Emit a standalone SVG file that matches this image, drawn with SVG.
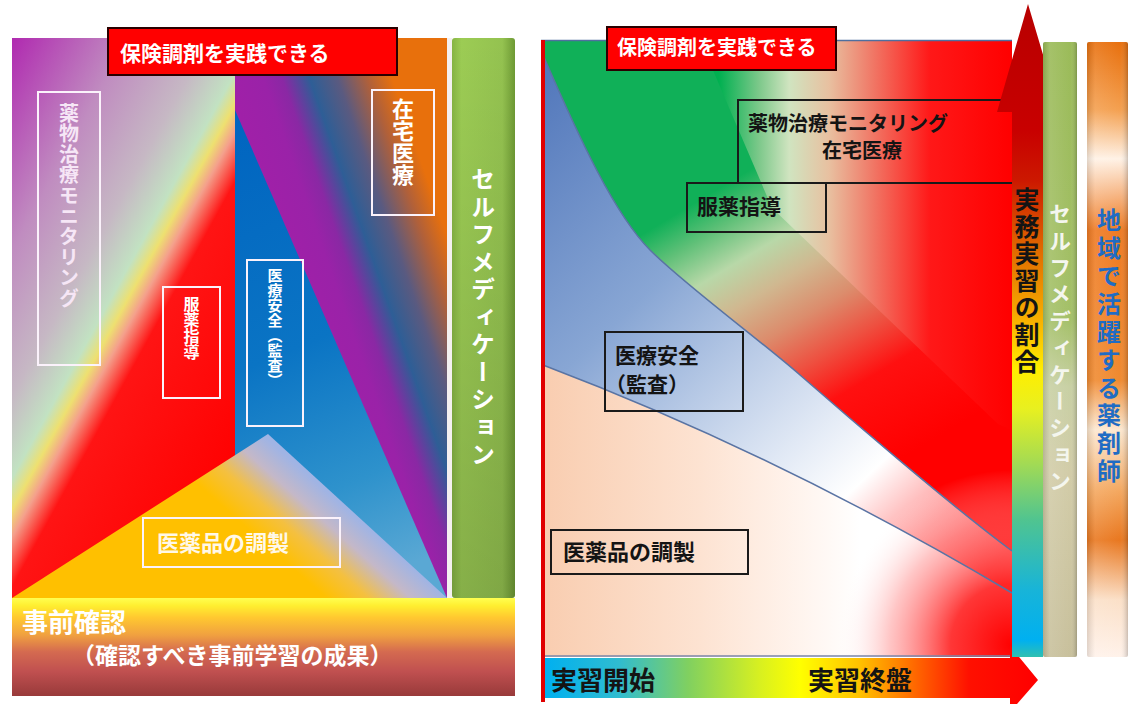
<svg xmlns="http://www.w3.org/2000/svg" width="1131" height="704" viewBox="0 0 1131 704">
<style>
text{font-family:"Noto Sans CJK JP","Noto Sans CJK SC",sans-serif;font-weight:700}
.v{writing-mode:vertical-rl}
.w{fill:#ffffff}
.k{fill:#141414}
.wb{fill:none;stroke:#fbf2fb;stroke-width:2}
.kb{fill:none;stroke:#1a1a1a;stroke-width:2}
.curve{fill:none;stroke:#5a74a4;stroke-width:1.5}
.title{fill:#ff0000;stroke:#2a0000;stroke-width:2}
</style>
<defs>
<linearGradient id="gL" gradientUnits="userSpaceOnUse" x1="0" y1="0" x2="383.9" y2="211.1">
<stop offset="0.066" stop-color="#b02ab0"/>
<stop offset="0.3" stop-color="#c08cc0"/>
<stop offset="0.46" stop-color="#c6b8c4"/>
<stop offset="0.55" stop-color="#c2e2c2"/>
<stop offset="0.585" stop-color="#eee070"/>
<stop offset="0.615" stop-color="#f4a08c"/>
<stop offset="0.67" stop-color="#ff1414"/>
<stop offset="1" stop-color="#ff0000"/>
</linearGradient>
<linearGradient id="gM" gradientUnits="userSpaceOnUse" x1="200" y1="0" x2="600" y2="-140">
<stop offset="0" stop-color="#a020a8"/>
<stop offset="0.08" stop-color="#9a22a8"/>
<stop offset="0.122" stop-color="#8a28a4"/>
<stop offset="0.183" stop-color="#2e5e96"/>
<stop offset="0.245" stop-color="#5a5a80"/>
<stop offset="0.312" stop-color="#b0603a"/>
<stop offset="0.367" stop-color="#e8700c"/>
<stop offset="1" stop-color="#e8700c"/>
</linearGradient>
<linearGradient id="gB" gradientUnits="userSpaceOnUse" x1="235" y1="110" x2="420" y2="560">
<stop offset="0" stop-color="#0064c0"/>
<stop offset="0.5" stop-color="#0a74c4"/>
<stop offset="0.8" stop-color="#2e92cc"/>
<stop offset="1" stop-color="#5aa8d4"/>
</linearGradient>
<linearGradient id="gY" gradientUnits="userSpaceOnUse" x1="350" y1="512" x2="297" y2="572">
<stop offset="0" stop-color="#a0b4e4"/>
<stop offset="0.3" stop-color="#c4b8c8"/>
<stop offset="0.65" stop-color="#f4c040"/>
<stop offset="1" stop-color="#ffc000"/>
</linearGradient>
<linearGradient id="gBand" x1="0" y1="0" x2="0" y2="1">
<stop offset="0" stop-color="#ffff50"/>
<stop offset="0.08" stop-color="#ffee30"/>
<stop offset="0.2" stop-color="#ffc830"/>
<stop offset="0.38" stop-color="#f0a040"/>
<stop offset="0.55" stop-color="#d46a50"/>
<stop offset="0.75" stop-color="#c05050"/>
<stop offset="1" stop-color="#983a3a"/>
</linearGradient>
<linearGradient id="gG" x1="0" y1="0" x2="1" y2="0">
<stop offset="0" stop-color="#86b444"/>
<stop offset="0.15" stop-color="#9ccc54"/>
<stop offset="0.8" stop-color="#94c250"/>
<stop offset="1" stop-color="#6e9a34"/>
</linearGradient>
<linearGradient id="gDark" x1="0" y1="0" x2="0" y2="1">
<stop offset="0" stop-color="#000" stop-opacity="0"/>
<stop offset="1" stop-color="#000" stop-opacity="0.14"/>
</linearGradient>
<linearGradient id="gUp" gradientUnits="userSpaceOnUse" x1="543" y1="0" x2="1012" y2="0">
<stop offset="0.375" stop-color="#00b050"/>
<stop offset="0.46" stop-color="#7cc88a"/>
<stop offset="0.525" stop-color="#d0e4c0"/>
<stop offset="0.61" stop-color="#e8c0a0"/>
<stop offset="0.70" stop-color="#f07a68"/>
<stop offset="0.825" stop-color="#ff1818"/>
<stop offset="1" stop-color="#ff0000"/>
</linearGradient>
<linearGradient id="gW" gradientUnits="userSpaceOnUse" x1="0" y1="0" x2="441" y2="735">
<stop offset="0.62" stop-color="#10b058"/>
<stop offset="0.66" stop-color="#60c078"/>
<stop offset="0.705" stop-color="#b8d8a8"/>
<stop offset="0.75" stop-color="#d0b890"/>
<stop offset="0.80" stop-color="#dc8c6c"/>
<stop offset="0.85" stop-color="#ee5040"/>
<stop offset="0.90" stop-color="#ff1010"/>
<stop offset="1" stop-color="#ff0000"/>
</linearGradient>
<linearGradient id="gBlue" gradientUnits="userSpaceOnUse" x1="545" y1="80" x2="1000" y2="560">
<stop offset="0" stop-color="#5479bc"/>
<stop offset="0.34" stop-color="#88a6d4"/>
<stop offset="0.51" stop-color="#b8cae6"/>
<stop offset="0.67" stop-color="#e4ebf6"/>
<stop offset="0.77" stop-color="#ffffff"/>
<stop offset="0.89" stop-color="#ff9a9a"/>
<stop offset="1" stop-color="#ff5a5a"/>
</linearGradient>
<linearGradient id="gPeach" gradientUnits="userSpaceOnUse" x1="543" y1="0" x2="860" y2="0">
<stop offset="0" stop-color="#f9cdb0"/>
<stop offset="0.5" stop-color="#fde3d2"/>
<stop offset="0.85" stop-color="#fff6f1"/>
<stop offset="1" stop-color="#ffffff"/>
</linearGradient>
<radialGradient id="gGlow" gradientUnits="userSpaceOnUse" cx="1012" cy="645" r="175">
<stop offset="0" stop-color="#ff0000" stop-opacity="1"/>
<stop offset="0.35" stop-color="#ff2020" stop-opacity="0.9"/>
<stop offset="0.7" stop-color="#ff8080" stop-opacity="0.45"/>
<stop offset="1" stop-color="#ffffff" stop-opacity="0"/>
</radialGradient>
<linearGradient id="gV" gradientUnits="userSpaceOnUse" x1="0" y1="4" x2="0" y2="657">
<stop offset="0" stop-color="#b80000"/>
<stop offset="0.193" stop-color="#c80000"/>
<stop offset="0.27" stop-color="#cc1800"/>
<stop offset="0.377" stop-color="#e06a00"/>
<stop offset="0.484" stop-color="#f8b000"/>
<stop offset="0.56" stop-color="#ffee00"/>
<stop offset="0.62" stop-color="#e8f020"/>
<stop offset="0.698" stop-color="#a8dc50"/>
<stop offset="0.79" stop-color="#50c490"/>
<stop offset="0.897" stop-color="#18b4d8"/>
<stop offset="0.974" stop-color="#00b0f0"/>
<stop offset="1" stop-color="#30c0b0"/>
</linearGradient>
<linearGradient id="gH" gradientUnits="userSpaceOnUse" x1="545" y1="0" x2="1038" y2="0">
<stop offset="0" stop-color="#00b0f0"/>
<stop offset="0.15" stop-color="#30bcd0"/>
<stop offset="0.29" stop-color="#80d060"/>
<stop offset="0.436" stop-color="#d8f020"/>
<stop offset="0.517" stop-color="#ffff00"/>
<stop offset="0.64" stop-color="#ffc000"/>
<stop offset="0.76" stop-color="#ff6000"/>
<stop offset="0.86" stop-color="#ff1000"/>
<stop offset="1" stop-color="#ff0000"/>
</linearGradient>
<linearGradient id="gS" x1="0" y1="0" x2="0" y2="1">
<stop offset="0" stop-color="#9bbb59"/>
<stop offset="0.45" stop-color="#a4c068"/>
<stop offset="0.56" stop-color="#c8d0a4"/>
<stop offset="0.7" stop-color="#d2cca8"/>
<stop offset="1" stop-color="#c8c09c"/>
</linearGradient>
<linearGradient id="gO" x1="0" y1="0" x2="0" y2="1">
<stop offset="0" stop-color="#e8700e"/>
<stop offset="0.11" stop-color="#f4a050"/>
<stop offset="0.19" stop-color="#fff2e6"/>
<stop offset="0.306" stop-color="#ef7a22"/>
<stop offset="0.55" stop-color="#f08a30"/>
<stop offset="0.63" stop-color="#fde8d0"/>
<stop offset="0.73" stop-color="#f4a860"/>
<stop offset="0.81" stop-color="#e97820"/>
<stop offset="0.907" stop-color="#fbe0c8"/>
<stop offset="1" stop-color="#fff2ea"/>
</linearGradient>
<linearGradient id="gEdge" x1="0" y1="0" x2="1" y2="0">
<stop offset="0" stop-color="#000" stop-opacity="0.12"/>
<stop offset="0.2" stop-color="#fff" stop-opacity="0.1"/>
<stop offset="0.8" stop-color="#fff" stop-opacity="0"/>
<stop offset="1" stop-color="#000" stop-opacity="0.2"/>
</linearGradient>
</defs>

<rect width="1131" height="704" fill="#ffffff"/>

<!-- LEFT PANEL -->
<g id="left-panel">
  <rect x="12" y="38" width="223" height="560" fill="url(#gL)"/>
  <rect x="235" y="38" width="212" height="560" fill="url(#gM)"/>
  <polygon points="235,110 447,598 235,598" fill="url(#gB)"/>
  <polygon points="12,598 268,434 447,598" fill="url(#gY)"/>
  <rect x="447" y="38" width="5" height="560" fill="#f4f0f0"/>
  <g id="left-selfmed">
    <rect x="452" y="38" width="63" height="560" rx="3" fill="url(#gG)"/>
    <rect x="452" y="38" width="63" height="560" rx="3" fill="url(#gDark)"/>
    <text class="v w" x="483" y="167" font-size="24" letter-spacing="3.5">セルフメディケーション</text>
  </g>
  <g id="left-prior">
    <rect x="12" y="598" width="503" height="98" fill="url(#gBand)"/>
    <text class="w" x="22" y="632" font-size="26">事前確認</text>
    <text class="w" x="72" y="664" font-size="23">（確認すべき事前学習の成果）</text>
  </g>
  <g id="left-title">
    <rect class="title" x="108" y="28" width="289" height="47"/>
    <text class="w" x="120" y="61" font-size="21">保険調剤を実践できる</text>
  </g>
  <g id="left-monitoring">
    <rect class="wb" x="38" y="92" width="62" height="273"/>
    <text class="v" x="69" y="103" font-size="20" letter-spacing="0.6" fill="#f6e6f6">薬物治療モニタリング</text>
  </g>
  <g id="left-home">
    <rect class="wb" x="372" y="90" width="62" height="125"/>
    <text class="v w" x="403" y="98" font-size="22">在宅医療</text>
  </g>
  <g id="left-guidance">
    <rect class="wb" x="163" y="287" width="57" height="111"/>
    <text class="v w" x="191.5" y="296" font-size="16">服薬指導</text>
  </g>
  <g id="left-safety">
    <rect class="wb" x="247" y="260" width="56" height="166"/>
    <text class="v w" x="275" y="268" font-size="15">医療安全（監査）</text>
  </g>
  <g id="left-prep">
    <rect class="wb" x="143" y="518" width="197" height="49"/>
    <text x="157" y="551" font-size="22" fill="#fff8e8">医薬品の調製</text>
  </g>
</g>

<!-- RIGHT PANEL -->
<g id="right-panel">
  <rect x="541" y="40" width="471" height="617" fill="url(#gUp)"/>
  <path d="M545,40 L700,40 L772,208 L998,424 L1012,430 L1012,551 S950,505 800,375 C760,340 685,285 650,250 C615,215 580,140 543,55 Z" fill="url(#gW)"/>
  <path d="M543,55 C580,140 615,215 650,250 S760,340 800,375 S950,505 1012,551 L1012,593 Q780,455 543,365 Z" fill="url(#gBlue)"/>
  <path d="M543,365 Q780,455 1012,593 L1012,657 L543,657 Z" fill="url(#gPeach)"/>
  <rect x="820" y="460" width="192" height="197" fill="url(#gGlow)"/>
  <path class="curve" d="M543,55 C580,140 615,215 650,250 S760,340 800,375 S950,505 1012,551"/>
  <path class="curve" d="M543,365 Q780,455 1012,593"/>
  <line x1="543" y1="656" x2="1012" y2="656" stroke="#7a86a8" stroke-width="1.5"/>
  <line x1="541" y1="40.5" x2="1012" y2="40.5" stroke="#4f6f9f" stroke-width="1.5"/>
  <line x1="543" y1="40" x2="543" y2="702" stroke="#e00000" stroke-width="4"/>

  <g id="right-title">
    <rect class="title" x="607" y="27" width="229" height="43"/>
    <text class="w" x="617" y="55" font-size="20">保険調剤を実践できる</text>
  </g>
  <g id="right-monitoring">
    <rect class="kb" x="738" y="100" width="280" height="83"/>
    <text class="k" x="748" y="131" font-size="20">薬物治療モニタリング</text>
    <text class="k" x="822" y="158" font-size="20">在宅医療</text>
  </g>
  <g id="right-guidance">
    <rect class="kb" x="687" y="183" width="139" height="49"/>
    <text class="k" x="697" y="214" font-size="21">服薬指導</text>
  </g>
  <g id="right-safety">
    <rect class="kb" x="605" y="332" width="138" height="79"/>
    <text class="k" x="615" y="363" font-size="21">医療安全</text>
    <text class="k" x="605" y="392" font-size="21">（監査）</text>
  </g>
  <g id="right-prep">
    <rect class="kb" x="551" y="530" width="197" height="44"/>
    <text class="k" x="563" y="560" font-size="22">医薬品の調製</text>
  </g>
</g>

<g id="axes">
  <g id="axis-progress">
    <path d="M545,658 L1010,658 L1010,646 L1038,680 L1010,712 L1010,698 L545,698 Z" fill="url(#gH)"/>
    <text class="k" x="551" y="690" font-size="26">実習開始</text>
    <text class="k" x="808" y="690" font-size="26">実習終盤</text>
  </g>
  <g id="axis-ratio">
    <path d="M1028,4 L1060,112 L1043,112 L1043,657 L1012,657 L1012,112 L997,112 Z" fill="url(#gV)"/>
    <text class="v k" x="1027" y="187" font-size="25" letter-spacing="2">実務実習の割合</text>
  </g>
</g>

<g id="right-selfmed">
  <rect x="1043" y="42" width="34" height="615" rx="2" fill="url(#gS)"/>
  <rect x="1043" y="42" width="34" height="615" rx="2" fill="url(#gEdge)"/>
  <text class="v" x="1060" y="203" font-size="22" letter-spacing="4.7" fill="#f4f6ee">セルフメディケーション</text>
</g>
<g id="right-pharmacist">
  <rect x="1087" y="42" width="41" height="615" rx="2" fill="url(#gO)"/>
  <rect x="1087" y="42" width="41" height="615" rx="2" fill="url(#gEdge)"/>
  <text class="v" x="1109" y="208" font-size="24" letter-spacing="3.9" fill="#1f6cc4">地域で活躍する薬剤師</text>
</g>
</svg>
